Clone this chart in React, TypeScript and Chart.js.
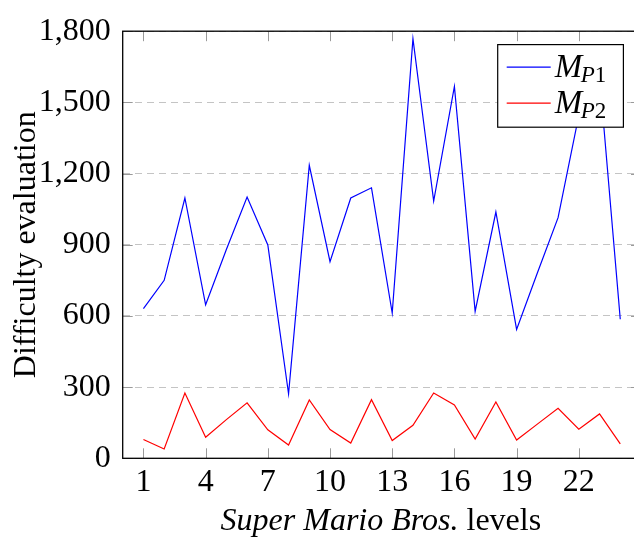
import React, { useEffect, useRef } from "react";
import { Chart, registerables } from "chart.js";

Chart.register(...registerables);

// ---- data ----
const levels = [1, 2, 3, 4, 5, 6, 7, 8, 9, 10, 11, 12, 13, 14, 15, 16, 17, 18, 19, 20, 21, 22, 23, 24];
const mp1 = [631, 750, 1097, 647, 880, 1101, 899, 272, 1235, 829, 1097, 1140, 612, 1768, 1084, 1567, 619, 1038, 543, 781, 1014, 1445, 1610, 586];
const mp2 = [79, 39, 275, 89, 163, 234, 120, 56, 246, 121, 64, 247, 75, 139, 275, 225, 81, 237, 77, 144, 211, 123, 187, 61];
const xTickValues = [1, 4, 7, 10, 13, 16, 19, 22];
const yTickValues = [0, 300, 600, 900, 1200, 1500, 1800];
const seriesNames = ["M_P1", "M_P2"];
const seriesColors = ["#0000ff", "#ff0000"];
const xTitleItalic = "Super Mario Bros.";
const xTitleRest = " levels";
const yTitle = "Difficulty evaluation";

const SERIF = '"Liberation Serif", "Times New Roman", Times, serif';
const FS = 32;

const framePlugin = {
  id: "frameTicks",
  afterDatasetsDraw(chart: any) {
    const { ctx, chartArea: a, scales } = chart;
    ctx.save();
    ctx.strokeStyle = "#9a9a9a";
    ctx.lineWidth = 1;
    const tl = 10;
    ctx.beginPath();
    xTickValues.forEach((v) => {
      const x = Math.round(scales.x.getPixelForValue(v)) + 0.5;
      ctx.moveTo(x, a.bottom);
      ctx.lineTo(x, a.bottom - tl);
      ctx.moveTo(x, a.top);
      ctx.lineTo(x, a.top + tl);
    });
    yTickValues.forEach((v) => {
      const y = Math.round(scales.y.getPixelForValue(v)) + 0.5;
      ctx.moveTo(a.left, y);
      ctx.lineTo(a.left + tl, y);
      ctx.moveTo(a.right, y);
      ctx.lineTo(a.right - tl, y);
    });
    ctx.stroke();
    ctx.strokeStyle = "#000";
    ctx.lineWidth = 1.3;
    ctx.strokeRect(a.left, a.top, a.right - a.left, a.bottom - a.top);
    ctx.restore();
  },
  afterDraw(chart: any) {
    const { ctx, chartArea: a } = chart;
    ctx.save();
    // legend
    const bw = 125.7;
    const bh = 82.6;
    const bx = a.right - 17.6 - bw;
    const by = a.top + 13.4;
    ctx.fillStyle = "#fff";
    ctx.fillRect(bx, by, bw, bh);
    ctx.strokeStyle = "#000";
    ctx.lineWidth = 1.2;
    ctx.strokeRect(bx, by, bw, bh);
    seriesNames.forEach((name, i) => {
      const cy = by + 22.5 + i * 36;
      ctx.strokeStyle = seriesColors[i];
      ctx.lineWidth = 1.2;
      ctx.beginPath();
      ctx.moveTo(bx + 9, cy);
      ctx.lineTo(bx + 53, cy);
      ctx.stroke();
      const [main, sub] = name.split("_");
      const base = cy + 9.5;
      let tx = bx + 57;
      ctx.fillStyle = "#000";
      ctx.textBaseline = "alphabetic";
      ctx.textAlign = "left";
      ctx.font = `italic 33px ${SERIF}`;
      ctx.fillText(main, tx, base);
      tx += ctx.measureText(main).width - 1.5;
      ctx.font = `italic 23px ${SERIF}`;
      ctx.fillText(sub[0], tx, base + 5);
      tx += ctx.measureText(sub[0]).width;
      ctx.font = `23px ${SERIF}`;
      ctx.fillText(sub.slice(1), tx, base + 5);
    });
    // x axis title
    ctx.fillStyle = "#000";
    ctx.textBaseline = "alphabetic";
    ctx.textAlign = "left";
    ctx.font = `italic ${FS}px ${SERIF}`;
    const w1 = ctx.measureText(xTitleItalic).width;
    ctx.font = `${FS}px ${SERIF}`;
    const w2 = ctx.measureText(xTitleRest).width;
    const cx = (a.left + a.right) / 2 - 1;
    const sx = cx - (w1 + w2) / 2;
    ctx.font = `italic ${FS}px ${SERIF}`;
    ctx.fillText(xTitleItalic, sx, 530);
    ctx.font = `${FS}px ${SERIF}`;
    ctx.fillText(xTitleRest, sx + w1, 530);
    ctx.restore();
  },
};

export default function App() {
  const ref = useRef<HTMLCanvasElement | null>(null);
  useEffect(() => {
    if (!ref.current) return;
    const chart = new Chart(ref.current, {
      type: "line",
      data: {
        datasets: [mp1, mp2].map((vals, i) => ({
          label: seriesNames[i],
          data: levels.map((lv, j) => ({ x: lv, y: vals[j] })),
          borderColor: seriesColors[i],
          backgroundColor: seriesColors[i],
          borderWidth: 1.2,
          pointRadius: 0,
          tension: 0,
          fill: false,
        })),
      },
      plugins: [framePlugin],
      options: {
        animation: false,
        responsive: false,
        devicePixelRatio: 1,
        layout: { padding: { top: 28, right: 0, left: 0, bottom: 0 } },
        plugins: {
          legend: { display: false },
          tooltip: { enabled: false },
        },
        scales: {
          x: {
            type: "linear",
            min: 0,
            max: 25,
            afterBuildTicks: (s: any) => {
              s.ticks = xTickValues.map((v) => ({ value: v }));
            },
            afterFit: (s: any) => {
              s.height = 537 - 458.3;
            },
            grid: { display: false, drawTicks: false },
            border: { display: false },
            ticks: {
              color: "#000",
              padding: 5,
              maxRotation: 0,
              autoSkip: false,
              font: { family: SERIF, size: FS },
              callback: (v: any) => String(v),
            },
          },
          y: {
            type: "linear",
            min: 0,
            max: 1800,
            afterBuildTicks: (s: any) => {
              s.ticks = yTickValues.map((v) => ({ value: v }));
            },
            afterFit: (s: any) => {
              s.width = 122.7;
            },
            grid: {
              color: "#c4c4c4",
              lineWidth: 1,
              drawTicks: false,
            },
            border: { display: false, dash: [7, 5] },
            ticks: {
              color: "#000",
              padding: 12,
              font: { family: SERIF, size: FS },
              callback: (v: any) => Number(v).toLocaleString("en-US"),
            },
            title: {
              display: true,
              text: yTitle,
              color: "#000",
              font: { family: SERIF, size: FS },
              padding: { top: 7, bottom: 0 },
            },
          },
        },
      },
    });
    return () => chart.destroy();
  }, []);
  return (
    <div
      style={{
        position: "fixed",
        left: 0,
        top: 0,
        width: 634,
        height: 537,
        overflow: "hidden",
        background: "#fff",
      }}
    >
      <canvas ref={ref} width={641} height={537} style={{ width: 641, height: 537, display: "block" }} />
    </div>
  );
}
